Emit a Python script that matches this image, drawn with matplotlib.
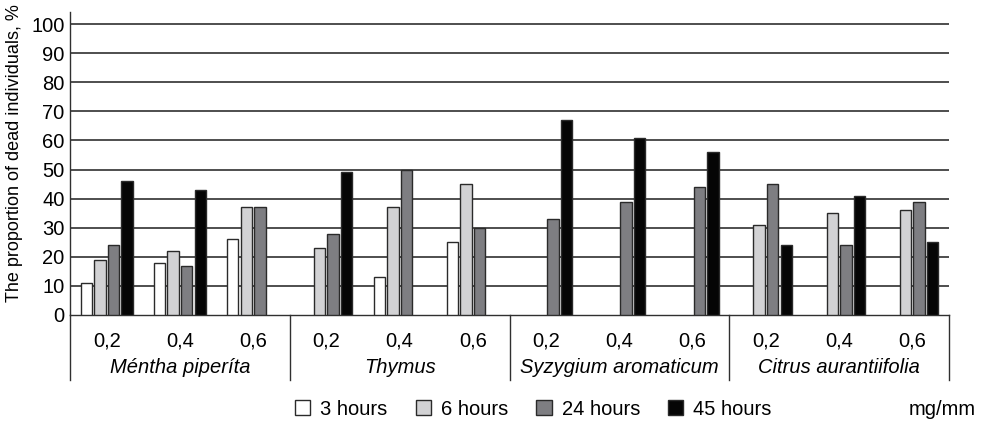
import numpy as np
import matplotlib.pyplot as plt
from matplotlib.patches import Patch
import matplotlib.transforms as mtransforms

plt.rcParams['font.family'] = ['Liberation Sans', 'DejaVu Sans']

species = ["Méntha piperíta", "Thymus", "Syzygium aromaticum", "Citrus aurantiifolia"]
doses = ["0,2", "0,4", "0,6"]
series = ["3 hours", "6 hours", "24 hours", "45 hours"]
nan = np.nan
h3 = [11, 18, 26, nan, 13, 25, nan, nan, nan, nan, nan, nan]
h6 = [19, 22, 37, 23, 37, 45, nan, nan, nan, 31, 35, 36]
h24 = [24, 17, 37, 28, 50, 30, 33, 39, 44, 45, 24, 39]
h45 = [46, 43, nan, 49, nan, nan, 67, 61, 56, 24, 41, 25]
colors = ["#ffffff", "#d2d2d4", "#7e7e82", "#050505"]

fs = 14.5

fig = plt.figure(figsize=(9.86, 4.22), dpi=100)
ax = fig.add_axes([0.071, 0.2536, 0.8915, 0.717])

x = np.arange(12)
w = 0.155
step = 0.185
for i, (vals, c) in enumerate(zip([h3, h6, h24, h45], colors)):
    ax.bar(x + (i - 1.5) * step, vals, width=w, color=c, edgecolor="#2a2a2a",
           linewidth=1.0, zorder=3)

ax.set_xlim(-0.5, 11.5)
ax.set_ylim(0, 104)
ax.set_yticks(range(0, 101, 10))
for yv in range(10, 101, 10):
    ax.axhline(yv, color="#404040", linewidth=1.3, zorder=1)
ax.tick_params(axis='y', length=0, pad=4, labelsize=fs)
ax.set_xticks(x)
ax.set_xticklabels(doses * 4, fontsize=fs)
ax.tick_params(axis='x', length=0, pad=12)

for s in ["top", "right"]:
    ax.spines[s].set_visible(False)
ax.spines["left"].set_color("#303030")
ax.spines["bottom"].set_color("#303030")
ax.spines["left"].set_linewidth(1.0)
ax.spines["bottom"].set_linewidth(1.0)

trans = mtransforms.blended_transform_factory(ax.transData, ax.transAxes)
for k in range(5):
    xs = -0.5 + 3 * k
    ax.plot([xs, xs], [0, -0.215], color="#303030", linewidth=1.0,
            transform=trans, clip_on=False)
for k, name in enumerate(species):
    ax.text(3 * k + 1, -0.175, name, transform=trans, ha="center", va="center",
            fontsize=fs, style="italic")

ax.set_ylabel("The proportion of dead individuals, %", fontsize=13)
ax.yaxis.set_label_coords(-0.054, 0.535)

handles = [Patch(facecolor=c, edgecolor="#2a2a2a", linewidth=1.0) for c in colors]
fig.legend(handles, series, loc="center", bbox_to_anchor=(0.541, 0.03), ncol=4,
           frameon=False, fontsize=fs, handlelength=0.75, handleheight=0.75,
           handletextpad=0.5, columnspacing=1.4)
fig.text(0.99, 0.03, "mg/mm", ha="right", va="center", fontsize=fs)

fig.savefig("out.png", dpi=100)
